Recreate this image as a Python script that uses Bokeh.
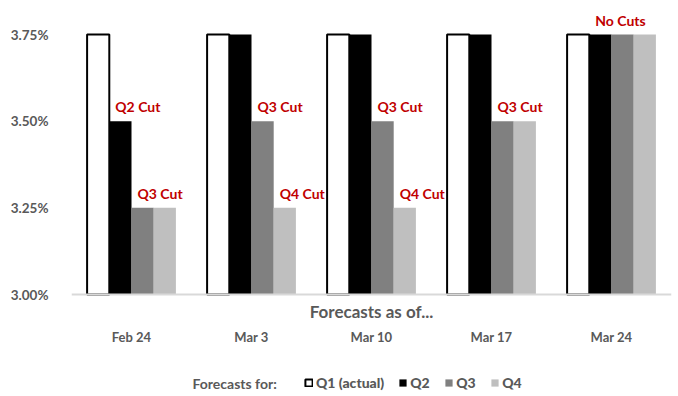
from bokeh.plotting import figure
from bokeh.models import (ColumnDataSource, FactorRange, Range1d, FixedTicker,
                          PrintfTickFormatter, LabelSet, Label, Legend, LegendItem,
                          Span)
from bokeh.core.properties import value
from bokeh.transform import dodge
from bokeh.embed import file_html
from bokeh.resources import INLINE

# Forecast dates (as of) and forecast rates for each quarter (%)
dates = ["Feb 24", "Mar 3", "Mar 10", "Mar 17", "Mar 24"]
q1 = [3.75, 3.75, 3.75, 3.75, 3.75]
q2 = [3.50, 3.75, 3.75, 3.75, 3.75]
q3 = [3.25, 3.50, 3.50, 3.50, 3.75]
q4 = [3.25, 3.25, 3.25, 3.50, 3.75]

series_names = ["Q1 (actual)", "Q2", "Q3", "Q4"]
series_keys = ["q1", "q2", "q3", "q4"]
y_ticks = [3.0, 3.25, 3.5, 3.75]

# Annotations: date, quarter, text
note_dates = ["Feb 24", "Feb 24", "Mar 3", "Mar 3", "Mar 10", "Mar 10", "Mar 17", "Mar 24"]
note_quarters = ["q2", "q3", "q3", "q4", "q3", "q4", "q3", "q2"]
note_texts = ["Q2 Cut", "Q3 Cut", "Q3 Cut", "Q4 Cut", "Q3 Cut", "Q4 Cut", "Q3 Cut", "No Cuts"]

FONT = "Lato"
GRAY = "#595959"
RED = "#C00000"
BAR_W = 0.185
BASE = 3.0

source = ColumnDataSource(dict(dates=dates, q1=q1, q2=q2, q3=q3, q4=q4,
                               base=[BASE] * len(dates)))

# The plotting frame spans the full height so that the category row,
# axis caption and legend below the baseline are all drawn inside it.
p = figure(x_range=FactorRange(*dates), y_range=Range1d(2.70577, 3.83654),
           width=678, height=396, output_backend="svg", toolbar_location=None,
           x_axis_location=None,
           min_border_left=71, min_border_right=7, min_border_top=4,
           min_border_bottom=0)
p.outline_line_color = None
p.xgrid.grid_line_color = None
p.ygrid.grid_line_color = None

styles = [
    dict(fill_color="white", line_color="black", line_width=2),
    dict(fill_color="black", line_color=None),
    dict(fill_color="#808080", line_color=None),
    dict(fill_color="#BFBFBF", line_color=None),
]
offsets = [-1.5 * BAR_W, -0.5 * BAR_W, 0.5 * BAR_W, 1.5 * BAR_W]

renderers = []
for key, off, st in zip(series_keys, offsets, styles):
    r = p.vbar(x=dodge("dates", off, range=p.x_range), top=key, bottom=BASE,
               width=BAR_W, source=source, **st)
    renderers.append(r)

# Baseline of the category axis
p.add_layout(Span(location=BASE, dimension="width", line_color="#D9D9D9",
                  line_width=2))

# Category labels under the baseline
p.add_layout(LabelSet(x="dates", y="base", text="dates", source=source,
                      y_offset=-42, text_align="center", text_baseline="middle",
                      text_font=value(FONT), text_font_style="bold",
                      text_font_size="13px", text_color=GRAY))

# Axis caption between baseline and category labels
p.add_layout(Label(x=300, y=85, x_units="screen", y_units="screen",
                   text="Forecasts as of...", text_align="center",
                   text_baseline="middle", text_font=FONT, text_font_style="bold",
                   text_font_size="17px", text_color=GRAY))

# Red annotation labels, left-aligned just inside each bar's left edge
vals = dict(q1=q1, q2=q2, q3=q3, q4=q4)
off_map = dict(zip(series_keys, offsets))
note_y = [vals[q][dates.index(d)] for d, q in zip(note_dates, note_quarters)]
note_dx = [off_map[q] - BAR_W / 2 for q in note_quarters]
for d_off in sorted(set(note_dx)):
    idx = [i for i, v in enumerate(note_dx) if v == d_off]
    sub = ColumnDataSource(dict(x=[note_dates[i] for i in idx],
                                y=[note_y[i] for i in idx],
                                text=[note_texts[i] for i in idx]))
    p.add_layout(LabelSet(x=dodge("x", d_off, range=p.x_range), y="y", text="text",
                          source=sub, x_offset=6, y_offset=9,
                          text_align="left", text_baseline="alphabetic",
                          text_font=value(FONT), text_font_style="bold",
                          text_font_size="14px", text_color=RED))

# Y axis
p.yaxis.ticker = FixedTicker(ticks=y_ticks)
p.yaxis.formatter = PrintfTickFormatter(format="%.2f%%")
p.yaxis.axis_line_color = None
p.yaxis.major_tick_line_color = None
p.yaxis.minor_tick_line_color = None
p.yaxis.major_label_standoff = 17
p.yaxis.major_label_text_font = FONT
p.yaxis.major_label_text_font_style = "bold"
p.yaxis.major_label_text_font_size = "13.5px"
p.yaxis.major_label_text_color = GRAY

# Legend row with its caption
p.add_layout(Label(x=121, y=13, x_units="screen", y_units="screen",
                   text="Forecasts for:", text_align="left",
                   text_baseline="middle", text_font=FONT, text_font_style="bold",
                   text_font_size="14px", text_color=GRAY))

legend = Legend(items=[LegendItem(label=n, renderers=[r])
                       for n, r in zip(series_names, renderers)],
                orientation="horizontal", location=(233, 5),
                glyph_width=9, glyph_height=9, label_standoff=3, spacing=14,
                label_height=16, padding=0, margin=0, border_line_color=None,
                background_fill_alpha=0,
                label_text_font="'Lato Heavy', Lato", label_text_font_style="bold",
                label_text_font_size="14px", label_text_color=GRAY)
p.add_layout(legend, "center")

open("out.html", "w").write(file_html(p, INLINE))
